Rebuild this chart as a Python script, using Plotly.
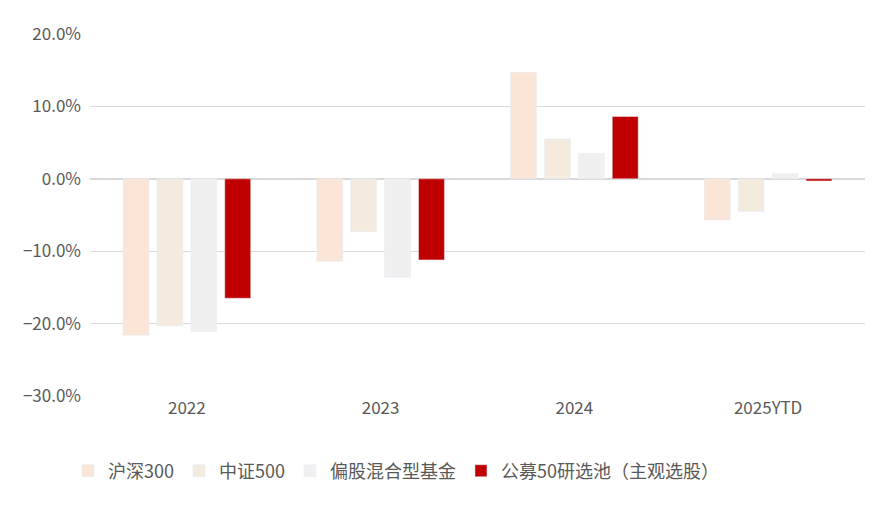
import plotly.graph_objects as go

categories = ["2022", "2023", "2024", "2025YTD"]
hs300 = [-21.6, -11.4, 14.7, -5.7]
zz500 = [-20.3, -7.3, 5.5, -4.5]
mixed = [-21.1, -13.6, 3.5, 0.7]
pick50 = [-16.5, -11.2, 8.6, -0.3]

series = [
    ("沪深300", hs300, "#FBE5D6"),
    ("中证500", zz500, "#F4EADD"),
    ("偏股混合型基金", mixed, "#F0F0F0"),
    ("公募50研选池（主观选股）", pick50, "#C00000"),
]

fig = go.Figure()
for name, vals, col in series:
    fig.add_bar(x=categories, y=[v / 100 for v in vals], name=name, marker_color=col)

font = "Noto Sans CJK SC"
fig.update_layout(
    width=891, height=505,
    margin=dict(l=82, r=34, t=18, b=117),
    paper_bgcolor="white", plot_bgcolor="white",
    barmode="group", bargap=0.3, bargroupgap=0.235,
    font=dict(family=font, size=17, color="#595959"),
    showlegend=True,
    legend=dict(orientation="h", xref="container", x=60/891, xanchor="left",
                yref="container", y=1-463/505, yanchor="middle",
                font=dict(size=18, color="#595959"), itemwidth=30),
    xaxis=dict(showgrid=False, tickfont=dict(size=17), ticks=""),
    yaxis=dict(range=[-0.3, 0.2], dtick=0.1, tickformat=".1%", showgrid=True,
               gridcolor="#D9D9D9", gridwidth=1, zeroline=True, zerolinecolor="#D9D9D9",
               zerolinewidth=2, tickfont=dict(size=17), ticklabelstandoff=8),
)
fig.write_html("out.html")
